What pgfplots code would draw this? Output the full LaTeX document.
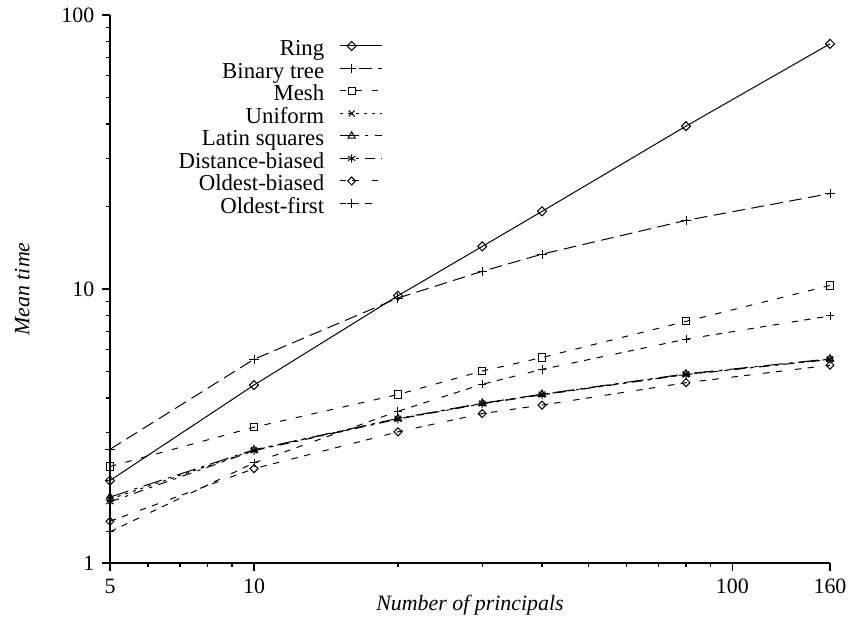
\documentclass[border=0pt,11pt]{standalone}
\usepackage{fontspec}
\setmainfont{Liberation Serif}
\usepackage{pgfplots}
\pgfplotsset{compat=1.18}
\tikzset{
  lta/.style={dash pattern=on 6.4pt off 3.2pt},
  ltb/.style={dash pattern=on 3.2pt off 4.8pt},
  ltc/.style={dash pattern=on 1.6pt off 2.4pt},
  ltd/.style={dash pattern=on 9.6pt off 3.2pt on 1.6pt off 3.2pt},
  lte/.style={dash pattern=on 4.8pt off 3.2pt on 1.6pt off 3.2pt},
  ltf/.style={dash pattern=on 3.2pt off 3.2pt on 3.2pt off 6.4pt},
  ltg/.style={dash pattern=on 3.2pt off 3.2pt on 3.2pt off 3.2pt on 3.2pt off 6.4pt},
}
\begin{document}
\begin{tikzpicture}
\path[use as bounding box] (-55pt,-29pt) rectangle (369pt,281.5pt);
\begin{loglogaxis}[
  scale only axis, width=360pt, height=274pt,
  xmin=5, xmax=160, ymin=1, ymax=100,
  axis x line*=bottom, axis y line*=left,
  axis line style={line width=1pt,-},
  xtick={5,10,100,160}, xticklabels={5,10,100,160},
  minor xtick={6,7,8,9,20,30,40,50,60,70,80,90},
  ytick={1,10,100}, yticklabels={1,10,100},
  minor ytick={2,3,4,5,6,7,8,9,20,30,40,50,60,70,80,90},
  tick align=outside,
  major tick length=4pt, minor tick length=2pt,
  every tick/.style={black, line width=0.7pt},
  xlabel={\textit{Number of principals}},
  ylabel={\textit{Mean time}},
  xlabel style={at={(axis description cs:0.5,0)}, anchor=center, yshift=-21pt},
  ylabel style={at={(axis description cs:-0.122,0.5)}, anchor=center},
  clip=false,
  legend style={draw=none, fill=none, at={(0.378,0.9526)}, anchor=north east,
    inner sep=0pt, outer sep=0pt, row sep=1.25pt, column sep=7.5pt,
    font=\fontsize{11.4pt}{13pt}\selectfont,
    nodes={inner sep=0pt, text height=7.5pt, text depth=2.5pt}},
  legend cell align=right,
  legend plot pos=right,
  legend image code/.code={\draw[mark repeat=2,mark phase=2,#1] plot coordinates {(0pt,2.5pt) (6pt,2.5pt) (21pt,2.5pt)};},
  every axis plot/.append style={black, line width=0.5pt},
]
\addplot[solid, mark=square, mark size=1.6pt, mark options={solid, rotate=45}] coordinates {(5,2.0)(10,4.46)(20,9.45)(30,14.3)(40,19.2)(80,39.3)(160,78.5)};
\addlegendentry{Ring}
\addplot[lta, mark=+, mark size=2.3pt, mark options={solid}] coordinates {(5,2.6)(10,5.54)(20,9.27)(30,11.6)(40,13.4)(80,17.8)(160,22.3)};
\addlegendentry{Binary tree}
\addplot[ltb, mark=square, mark size=1.8pt, mark options={solid}] coordinates {(5,2.25)(10,3.13)(20,4.12)(30,5.02)(40,5.62)(80,7.62)(160,10.3)};
\addlegendentry{Mesh}
\addplot[ltc, mark=x, mark size=2.1pt, mark options={solid}] coordinates {(5,1.71)(10,2.58)(20,3.36)(30,3.82)(40,4.12)(80,4.88)(160,5.54)};
\addlegendentry{Uniform}
\addplot[ltd, mark=triangle, mark size=2.1pt, mark options={solid}] coordinates {(5,1.74)(10,2.59)(20,3.37)(30,3.83)(40,4.13)(80,4.90)(160,5.56)};
\addlegendentry{Latin squares}
\addplot[lte, mark=asterisk, mark size=2.1pt, mark options={solid}] coordinates {(5,1.67)(10,2.57)(20,3.35)(30,3.81)(40,4.11)(80,4.87)(160,5.53)};
\addlegendentry{Distance-biased}
\addplot[ltf, mark=square, mark size=1.4pt, mark options={solid, rotate=45}] coordinates {(5,1.42)(10,2.21)(20,3.01)(30,3.51)(40,3.77)(80,4.55)(160,5.27)};
\addlegendentry{Oldest-biased}
\addplot[ltg, mark=+, mark size=2.1pt, mark options={solid}] coordinates {(5,1.30)(10,2.32)(20,3.58)(30,4.49)(40,5.09)(80,6.56)(160,7.98)};
\addlegendentry{Oldest-first}
\end{loglogaxis}
\end{tikzpicture}
\end{document}
